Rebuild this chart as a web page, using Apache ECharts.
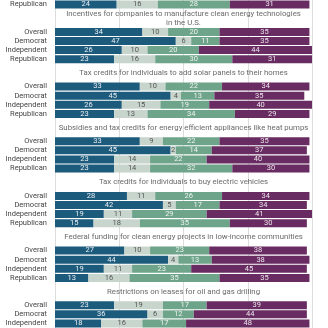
<!DOCTYPE html>
<html>
<head>
<meta charset="utf-8">
<script src="https://cdn.jsdelivr.net/npm/echarts@6/dist/echarts.min.js"></script>
<style>html,body{margin:0;padding:0;background:#fff}#c{width:328px;height:328px}</style>
</head>
<body>
<div id="c"></div>
<script>
// Panel titles (first panel is cut off at the top of the picture)
const panelTitles = [
  '',
  'Incentives for companies to manufacture clean energy technologies\nin the U.S.',
  'Tax credits for individuals to add solar panels to their homes',
  'Subsidies and tax credits for energy efficient appliances like heat pumps',
  'Tax credits for individuals to buy electric vehicles',
  'Federal funding for clean energy projects in low-income communities',
  'Restrictions on leases for oil and gas drilling'
];
// Visible rows of each panel
const panelRows = [
  ['Republican'],
  ['Overall', 'Democrat', 'Independent', 'Republican'],
  ['Overall', 'Democrat', 'Independent', 'Republican'],
  ['Overall', 'Democrat', 'Independent', 'Republican'],
  ['Overall', 'Democrat', 'Independent', 'Republican'],
  ['Overall', 'Democrat', 'Independent', 'Republican'],
  ['Overall', 'Democrat', 'Independent']
];
// Series values, one array per panel, in row order
const seriesNames = ['Dark blue', 'Light gray', 'Green', 'Purple'];
const blueVals = [[24], [34, 47, 26, 23], [33, 45, 26, 23], [33, 45, 23, 23], [28, 42, 19, 15], [27, 44, 19, 13], [23, 36, 18]];
const grayVals = [[16], [10, 6, 10, 16], [10, 4, 15, 13], [9, 2, 14, 14], [11, 5, 11, 18], [10, 4, 11, 16], [19, 6, 16]];
const greenVals = [[28], [20, 11, 20, 30], [22, 13, 19, 34], [22, 14, 22, 32], [26, 17, 29, 35], [23, 13, 23, 35], [17, 12, 17]];
const purpleVals = [[31], [35, 35, 44, 31], [34, 35, 40, 29], [35, 37, 40, 30], [34, 34, 41, 30], [38, 38, 45, 35], [39, 44, 48]];

const colors = ['#1d5b7d', '#c8d5cd', '#6ea48a', '#692c62'];
const labelColors = ['#e9eef2', '#555555', '#eef3f0', '#ece4eb'];
const allVals = [blueVals, grayVals, greenVals, purpleVals];

// Build categories and series data
const categories = [];
const seriesData = [[], [], [], []];
const titlePoints = [];
panelRows.forEach((rows, p) => {
  if (p > 0) {
    categories.push(''); categories.push('');
    for (let s = 0; s < 4; s++) { seriesData[s].push('-'); seriesData[s].push('-'); }
    titlePoints.push({ value: [50, categories.length - 1], title: panelTitles[p] });
  }
  rows.forEach((r, i) => {
    categories.push(r);
    for (let s = 0; s < 4; s++) seriesData[s].push(allVals[s][p][i]);
  });
});

const FONT = 'Roboto';
const chart = echarts.init(document.getElementById('c'), null, { renderer: 'canvas' });
const series = seriesData.map((d, s) => ({
  name: seriesNames[s],
  type: 'bar',
  stack: 'total',
  barWidth: 8,
  data: d,
  itemStyle: { color: colors[s] },
  label: {
    show: true,
    position: 'inside',
    color: labelColors[s],
    fontFamily: FONT,
    fontSize: 7.5,
    formatter: p => p.value
  },
  silent: true,
  animation: false
}));
series.push({
  type: 'scatter',
  symbolSize: 0,
  data: titlePoints,
  silent: true,
  animation: false,
  label: {
    show: true,
    position: 'inside',
    offset: [0, -4.5],
    color: '#444',
    fontFamily: FONT,
    fontSize: 7.8,
    lineHeight: 9,
    align: 'center',
    verticalAlign: 'middle',
    formatter: p => p.data.title
  }
});

chart.setOption({
  animation: false,
  grid: { left: 55, right: 16, top: -4, bottom: -3, containLabel: false },
  xAxis: {
    type: 'value', min: 0, max: 100, interval: 25,
    axisLabel: { show: false }, axisLine: { show: false }, axisTick: { show: false },
    splitLine: { show: true, lineStyle: { color: '#dcdcdc', width: 1 } }
  },
  yAxis: {
    type: 'category', inverse: true, data: categories,
    axisLine: { show: false }, axisTick: { show: false },
    axisLabel: { color: '#444', fontFamily: FONT, fontSize: 7.5, margin: 8, interval: 0 }
  },
  series: series
});
</script>
</body>
</html>
